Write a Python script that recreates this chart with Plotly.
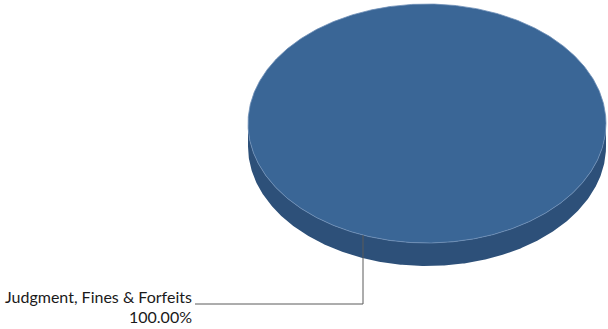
import numpy as np
import plotly.graph_objects as go

categories = ["Judgment, Fines & Forfeits"]
values = [100.0]
colors_top = ["#3A6696"]
colors_side = ["#2D5079"]

W, H = 608, 329
cx, cy, rx, ry, depth = 427, 123.5, 179, 119.5, 23

total = sum(values)
fig = go.Figure()

start = 0.0
for cat, v, ct, cs in zip(categories, values, colors_top, colors_side):
    span = 2 * np.pi * v / total
    th = np.linspace(start, start + span, 721)
    front = np.linspace(0, np.pi, 361)
    sx = np.concatenate([cx + rx * np.cos(front), (cx + rx * np.cos(front))[::-1]])
    sy = np.concatenate([cy + ry * np.sin(front), (cy + depth + ry * np.sin(front))[::-1]])
    fig.add_trace(go.Scatter(x=sx, y=sy, fill="toself", fillcolor=cs, mode="lines",
                             line=dict(width=0, color=cs), hoverinfo="skip", showlegend=False))
    tx = cx + rx * np.cos(th)
    ty = cy + ry * np.sin(th)
    if v < total:
        tx = np.concatenate([[cx], tx, [cx]])
        ty = np.concatenate([[cy], ty, [cy]])
    fig.add_trace(go.Scatter(x=tx, y=ty, fill="toself", fillcolor=ct, mode="lines",
                             line=dict(width=0.8, color="#6E8FB8"), hoverinfo="skip", showlegend=False))
    ang = np.arccos((363 - cx) / rx)
    ax_ = cx + rx * np.cos(ang)
    ay_ = cy + ry * np.sin(ang)
    fig.add_trace(go.Scatter(x=[ax_, ax_, 195], y=[ay_, 304, 304], mode="lines",
                             line=dict(width=1, color="#5A5A5A"), hoverinfo="skip", showlegend=False))
    pct = v / total * 100
    fig.add_annotation(x=194, y=296, text=cat, showarrow=False, xanchor="right", yanchor="middle",
                       font=dict(family="Lato", size=16, color="#1A1A1A"))
    fig.add_annotation(x=194, y=316, text=f"{pct:.2f}%", showarrow=False, xanchor="right", yanchor="middle",
                       font=dict(family="Lato", size=16, color="#1A1A1A"))
    start += span

fig.update_layout(width=W, height=H, margin=dict(l=0, r=0, t=0, b=0),
                  paper_bgcolor="white", plot_bgcolor="white",
                  xaxis=dict(range=[0, W], visible=False, fixedrange=True),
                  yaxis=dict(range=[H, 0], visible=False, fixedrange=True))
fig.write_html("out.html", config={"displayModeBar": False},
               post_script="document.body.style.margin='0';document.body.style.overflow='hidden';")
